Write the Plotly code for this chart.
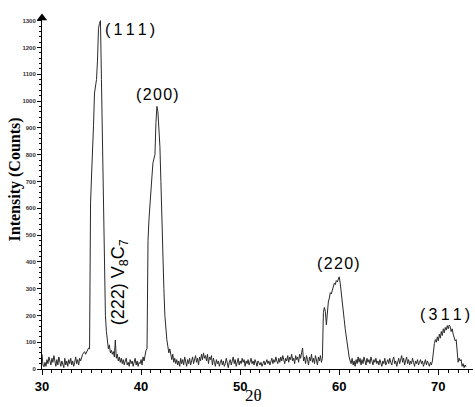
"""XRD pattern - (111)/(200)/(220)/(311) reflections with the V8C7 (222) shoulder."""

import numpy as np
import plotly.graph_objects as go

SCAN_START = 30.0  # deg 2-theta
SCAN_STEP = 0.1

# counts per step, one row per degree of 2-theta (30.0 ... 72.8)
COUNTS = [
    55, 15, 8, 25, 10, 35, 20, 45, 30, 15,
    40, 25, 50, 20, 10, 35, 15, 45, 25, 10,
    30, 20, 5, 40, 15, 30, 10, 35, 20, 40,
    15, 30, 10, 25, 45, 20, 35, 15, 40, 30,
    45, 55, 60, 65, 55, 62, 70, 78, 75, 620,
    720, 870, 910, 1030, 1060, 1080, 1150, 1270, 1290, 1300,
    1080, 845, 540, 330, 200, 140, 100, 75, 90, 60,
    70, 55, 65, 45, 108, 40, 55, 30, 45, 25,
    40, 20, 35, 15, 30, 40, 15, 25, 10, 35,
    20, 30, 10, 25, 40, 15, 30, 10, 25, 20,
    35, 15, 45, 30, 55, 70, 75, 480, 560, 630,
    660, 720, 770, 790, 800, 920, 980, 960, 900, 830,
    700, 545, 430, 300, 200, 146, 110, 85, 60, 75,
    50, 35, 55, 25, 40, 20, 35, 15, 30, 10,
    40, 20, 35, 15, 45, 25, 10, 35, 20, 40,
    15, 30, 45, 20, 35, 50, 25, 40, 15, 45,
    30, 55, 35, 60, 40, 50, 30, 55, 20, 45,
    35, 50, 15, 40, 25, 10, 35, 20, 30, 10,
    25, 35, 15, 30, 10, 20, 40, 15, 5, 25,
    35, 15, 30, 45, 20, 35, 10, 25, 40, 15,
    30, 20, 40, 25, 35, 10, 30, 20, 35, 15,
    25, 40, 20, 30, 15, 35, 25, 10, 30, 20,
    15, 25, 10, 20, 30, 15, 25, 35, 20, 30,
    15, 25, 40, 20, 35, 25, 45, 30, 20, 40,
    25, 45, 30, 50, 35, 20, 40, 30, 50, 25,
    45, 35, 55, 30, 40, 20, 50, 35, 45, 25,
    55, 40, 60, 78, 30, 45, 20, 50, 35, 15,
    45, 30, 55, 25, 40, 20, 50, 35, 15, 45,
    30, 50, 25, 40, 210, 230, 215, 165, 220, 250,
    265, 285, 280, 295, 305, 320, 315, 330, 325, 340,
    344, 320, 280, 235, 200, 185, 150, 120, 90, 60,
    45, 30, 20, 40, 15, 30, 10, 35, 20, 45,
    25, 40, 15, 35, 20, 45, 30, 15, 40, 25,
    35, 20, 45, 30, 15, 35, 25, 40, 20, 30,
    15, 35, 25, 10, 30, 20, 40, 15, 25, 35,
    20, 40, 25, 15, 35, 45, 20, 30, 10, 25,
    40, 20, 35, 50, 25, 40, 15, 30, 45, 20,
    35, 15, 30, 20, 40, 25, 10, 30, 20, 35,
    15, 25, 35, 20, 30, 10, 25, 35, 15, 30,
    20, 10, 25, 15, 30, 80, 95, 110, 100, 120,
    105, 130, 115, 140, 125, 150, 135, 155, 145, 162,
    150, 164, 158, 140, 150, 130, 120, 105, 110, 60,
    25, 40, 30, 35, 10, 20, 5, 15, 8,
]

PEAK_LABELS = ["(111)", "(200)", "(220)", "(311)"]
PEAK_POS = [(38.9, 1266), (41.7, 1023), (59.9, 392), (70.7, 205)]
PHASE_LABEL = "(222) V<sub>8</sub>C<sub>7</sub>"
PHASE_POS = (37.9, 325)

X_TICKS = [30, 40, 50, 60, 70]
Y_TICKS = list(range(0, 1400, 100))

SANS = "Liberation Sans, Arial, sans-serif"
SERIF = "Liberation Serif, Times New Roman, serif"
HAIR = "\u200a"


def spaced(s: str, gap: str = HAIR) -> str:
    return gap.join(s)


two_theta = np.round(SCAN_START + SCAN_STEP * np.arange(len(COUNTS)), 1)

fig = go.Figure()
fig.add_trace(go.Scatter(x=two_theta, y=COUNTS, mode="lines",
                         line=dict(color="#2a2a2a", width=1), showlegend=False))
# arrow head on top of the intensity axis
fig.add_trace(go.Scatter(x=[30], y=[1310], mode="markers", cliponaxis=False,
                         marker=dict(symbol="triangle-up", size=9, color="black"),
                         showlegend=False))

for txt, (x, y) in zip(PEAK_LABELS, PEAK_POS):
    gap = "\u2009" if "11" in txt else HAIR
    fig.add_annotation(x=x, y=y, text=spaced(txt, gap), showarrow=False,
                       font=dict(family=SANS, size=16, color="black"))
fig.add_annotation(x=PHASE_POS[0], y=PHASE_POS[1], text=PHASE_LABEL, showarrow=False,
                   textangle=-90, font=dict(family=SANS, size=18, color="black"))
fig.add_annotation(xref="paper", yref="paper", x=0, y=0.54, xshift=-27,
                   xanchor="center", yanchor="middle",
                   text="<b>Intensity (Counts)</b>", showarrow=False, textangle=-90,
                   font=dict(family=SERIF, size=16, color="black"))
fig.add_annotation(x=51.3, y=0, yshift=-26, text="2θ", showarrow=False,
                   font=dict(family=SERIF, size=17, color="black"))

fig.update_xaxes(range=[30, 73.5], tickvals=X_TICKS, ticktext=[str(v) for v in X_TICKS],
                 showline=True, linecolor="black", linewidth=1, showgrid=False, zeroline=False,
                 ticks="outside", ticklen=5, tickcolor="black", tickwidth=1,
                 minor=dict(dtick=1, ticks="outside", ticklen=3, tickcolor="black"),
                 tickfont=dict(family=SANS, size=13, color="black", weight="bold"))
fig.update_yaxes(range=[0, 1310], tickvals=Y_TICKS, ticktext=[str(v) for v in Y_TICKS],
                 showline=True, linecolor="black", linewidth=1, showgrid=False, zeroline=False,
                 ticks="outside", ticklen=4, tickcolor="black", tickwidth=1,
                 minor=dict(dtick=20, ticks="outside", ticklen=2, tickcolor="black"),
                 tickfont=dict(family=SANS, size=6, color="#333333", weight="bold"))
fig.update_layout(width=475, height=407, margin=dict(l=42, r=2, t=18, b=38),
                  plot_bgcolor="white", paper_bgcolor="white", showlegend=False)

# drop the browser's default 8 px body margin so the figure fills the window
fig.write_html("out.html", config={"displayModeBar": False},
               post_script="document.body.style.margin='0';document.body.style.overflow='hidden';")
